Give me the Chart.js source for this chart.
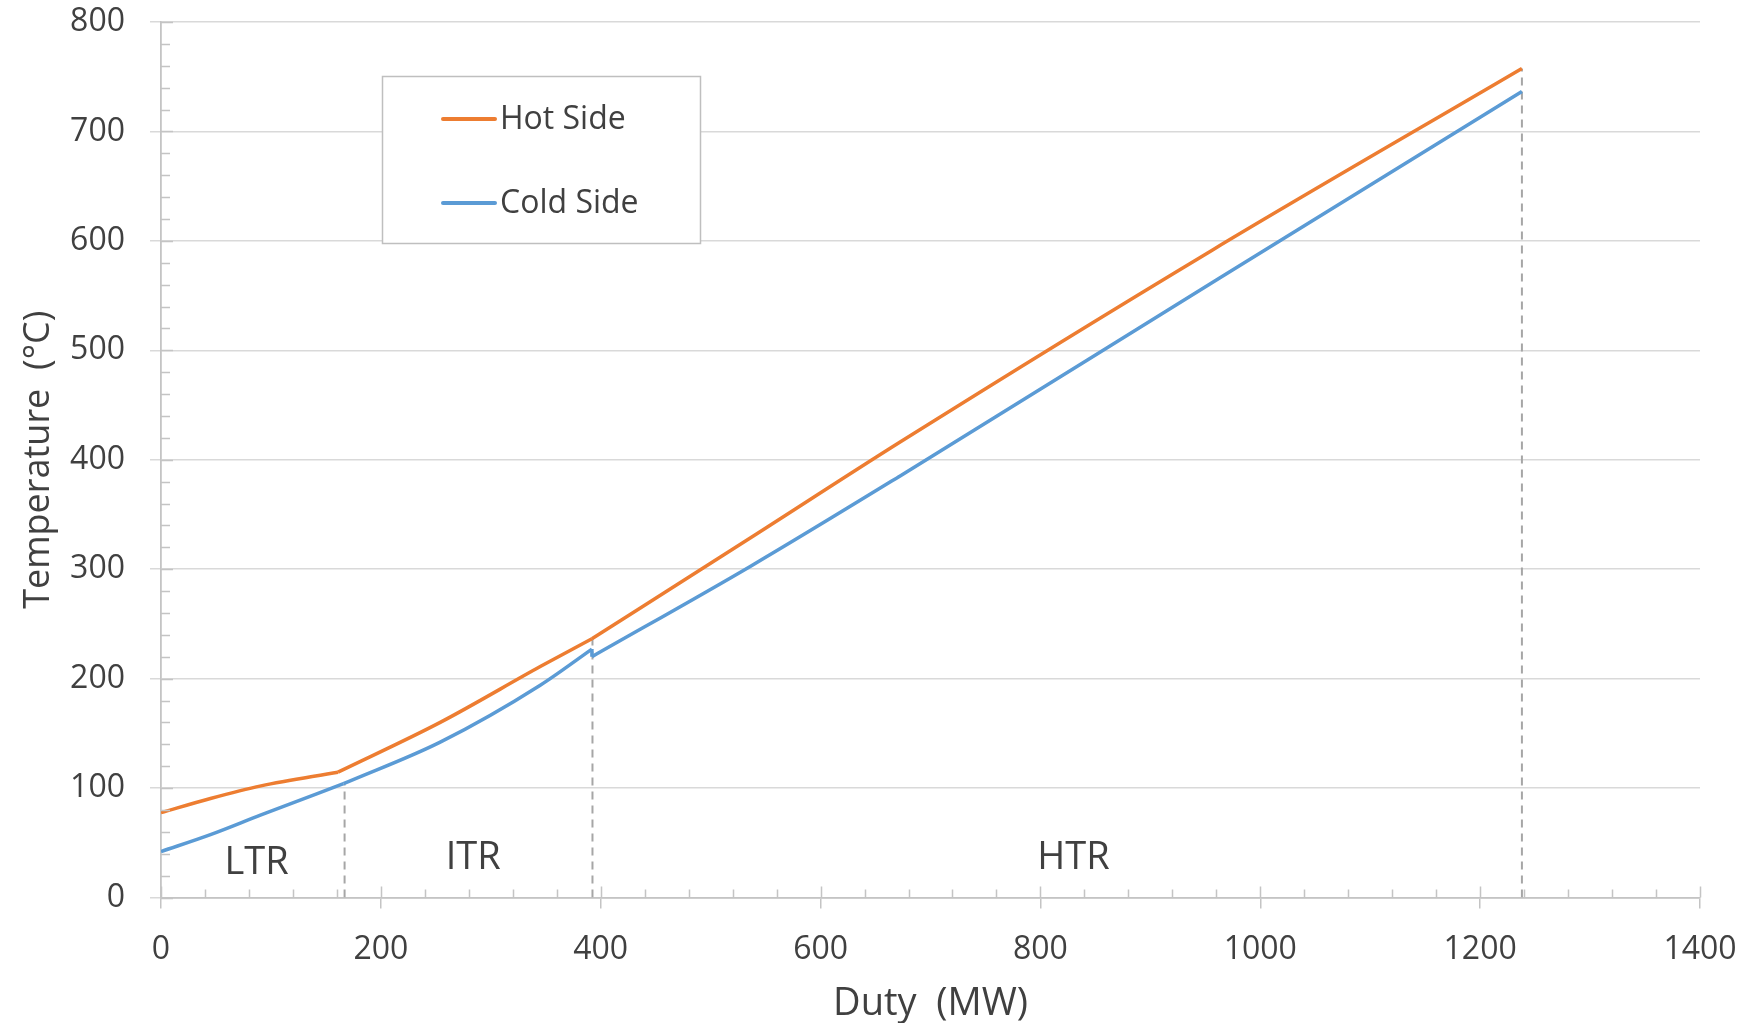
<!DOCTYPE html>
<html>
<head>
<meta charset="utf-8">
<script src="https://cdn.jsdelivr.net/npm/chart.js@4/dist/chart.umd.min.js"></script>
<style>
  body { margin: 0; background: #fff; }
</style>
</head>
<body>
<canvas id="myChart" width="1747" height="1023"></canvas>
<script>
'use strict';
let hotDuty = [0, 45, 91, 161, 254, 345, 392, 536, 672, 957, 1238];
let hotTemp = [77.5, 90.5, 102, 114.5, 160, 211, 236.5, 328.5, 416, 592, 757.5];
// index ranges of the smooth pieces (LTR, ITR, HTR)
let hotPieces = [[0, 3], [3, 6], [6, 10]];

let coldDuty = [0, 45, 91, 166, 254, 345, 392, 392, 536, 672, 963, 1238];
let coldTemp = [42, 57.5, 75.5, 104, 142, 194, 227, 220, 302.5, 385, 566, 736.5];
let coldPieces = [[0, 3], [3, 6], [6, 7], [7, 11]];

let dividerDuty = [167, 392.5, 1238];
let dividerTop = [104, 237, 757.5];

let regionNames = ['LTR', 'ITR', 'HTR'];
let regionDuty = [87, 284, 830];
let regionTemp = [31.5, 36, 36];

let seriesNames = ['Hot Side', 'Cold Side'];
let xTicks = [0, 200, 400, 600, 800, 1000, 1200, 1400];
let yTicks = [0, 100, 200, 300, 400, 500, 600, 700, 800];

const orange = '#ED7D31';
const blue = '#5B9BD5';
const axisColor = '#c4c4c4';
const textColor = '#404040';
const fontFamily = "'Open Sans', sans-serif";

function toPoints(xs, ys, from, to) {
    let pts = [];
    for (let i = from; i <= to; i++) pts.push({x: xs[i], y: ys[i]});
    return pts;
}

let datasets = [];
function addSeries(name, color, xs, ys, pieces) {
    pieces.forEach((p, k) => {
        datasets.push({
            label: name,
            data: toPoints(xs, ys, p[0], p[1]),
            borderColor: color,
            borderWidth: 3.5,
            cubicInterpolationMode: 'monotone',
            order: 1,
            inLegend: k === 0
        });
    });
}
addSeries(seriesNames[0], orange, hotDuty, hotTemp, hotPieces);
addSeries(seriesNames[1], blue, coldDuty, coldTemp, coldPieces);

for (let i = 0; i < dividerDuty.length; i++) {
    datasets.push({
        label: 'divider',
        data: [{x: dividerDuty[i], y: 0}, {x: dividerDuty[i], y: dividerTop[i]}],
        borderColor: '#a6a6a6',
        borderWidth: 2,
        borderDash: [8, 6],
        order: 5
    });
}

// minor + inner major ticks, Excel style
const tickMarks = {
    id: 'tickMarks',
    afterDatasetsDraw(chart) {
        let ctx = chart.ctx;
        let xs = chart.scales.x, ys = chart.scales.y;
        ctx.save();
        ctx.strokeStyle = axisColor;
        ctx.lineWidth = 1.5;
        ctx.beginPath();
        for (let v = xs.min; v <= xs.max; v += 40) {
            let px = Math.round(xs.getPixelForValue(v)) + 0.5;
            let len = (v % 200 === 0) ? 11 : 8;
            ctx.moveTo(px, xs.top);
            ctx.lineTo(px, xs.top - len);
        }
        for (let v = ys.min; v <= ys.max; v += 20) {
            let py = Math.round(ys.getPixelForValue(v)) + 0.5;
            let len = (v % 100 === 0) ? 12 : 9;
            ctx.moveTo(ys.right, py);
            ctx.lineTo(ys.right + len, py);
        }
        ctx.stroke();
        ctx.restore();
    }
};

const regionLabels = {
    id: 'regionLabels',
    afterDatasetsDraw(chart) {
        let ctx = chart.ctx;
        ctx.save();
        ctx.font = '38px ' + fontFamily;
        ctx.fillStyle = textColor;
        ctx.textAlign = 'center';
        ctx.textBaseline = 'middle';
        for (let i = 0; i < regionNames.length; i++) {
            ctx.fillText(regionNames[i], chart.scales.x.getPixelForValue(regionDuty[i]), chart.scales.y.getPixelForValue(regionTemp[i]));
        }
        ctx.restore();
    }
};

const boxLegend = {
    id: 'boxLegend',
    afterDraw(chart) {
        let ctx = chart.ctx;
        let left = 382, top = 76, w = 318, h = 167;
        let items = chart.data.datasets.filter(d => d.inLegend);
        ctx.save();
        ctx.fillStyle = '#fff';
        ctx.fillRect(left, top, w, h);
        ctx.strokeStyle = '#bfbfbf';
        ctx.lineWidth = 1.5;
        ctx.strokeRect(left + 0.5, top + 0.5, w, h);
        ctx.font = '32px ' + fontFamily;
        ctx.textBaseline = 'middle';
        ctx.lineCap = 'round';
        items.forEach((ds, i) => {
            let cy = top + 43 + i * 84;
            ctx.strokeStyle = ds.borderColor;
            ctx.lineWidth = 4;
            ctx.beginPath();
            ctx.moveTo(443, cy);
            ctx.lineTo(495, cy);
            ctx.stroke();
            ctx.fillStyle = textColor;
            ctx.fillText(ds.label, 500, cy + 1);
        });
        ctx.restore();
    }
};

let ctx = document.getElementById('myChart').getContext('2d');
let chart = new Chart(ctx, {
    type: 'scatter',
    data: {datasets: datasets},
    options: {
        responsive: false,
        animation: false,
        showLine: true,
        elements: {point: {radius: 0}},
        layout: {padding: {top: 22, right: 47, left: 0, bottom: 0}},
        plugins: {legend: {display: false}, tooltip: {enabled: false}},
        scales: {
            x: {
                type: 'linear',
                min: 0, max: 1400,
                afterBuildTicks: (scale) => { scale.ticks = xTicks.map(v => ({value: v})); },
                afterFit: (scale) => {
                    scale.height = 125.5;
                    scale.paddingLeft = 0;
                    scale.paddingRight = 0;
                },
                ticks: {font: {size: 32, family: fontFamily}, color: textColor, padding: 22, maxRotation: 0, callback: (v) => String(v)},
                grid: {drawOnChartArea: false, tickLength: 11, color: axisColor, lineWidth: 1.5},
                border: {color: axisColor, width: 1.8},
                title: {display: true, text: 'Duty  (MW)', font: {size: 38, family: fontFamily, lineHeight: 1.0}, color: textColor, padding: {top: 0, bottom: 0}}
            },
            y: {
                type: 'linear',
                min: 0, max: 800,
                afterBuildTicks: (scale) => { scale.ticks = yTicks.map(v => ({value: v})); },
                afterFit: (scale) => {
                    scale.width = 161;
                    scale.paddingTop = 0;
                    scale.paddingBottom = 0;
                },
                ticks: {font: {size: 32, family: fontFamily}, color: textColor, padding: 25},
                grid: {tickLength: 11, color: '#d9d9d9', lineWidth: 1.5},
                border: {color: axisColor, width: 1.8},
                title: {display: true, text: 'Temperature  (°C)', font: {size: 36, family: fontFamily}, color: textColor, padding: {top: 17, bottom: 0}}
            }
        }
    },
    plugins: [tickMarks, regionLabels, boxLegend]
});
</script>
</body>
</html>
